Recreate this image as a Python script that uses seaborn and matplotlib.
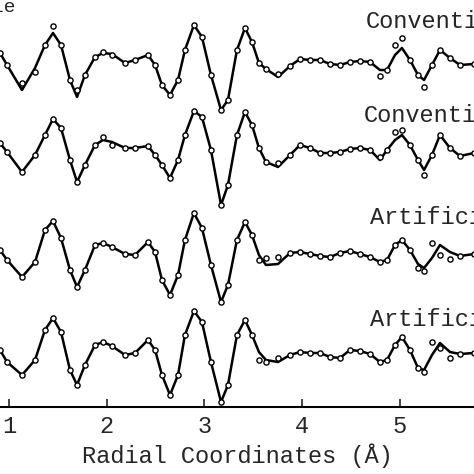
import numpy as np
import pandas as pd
import matplotlib
matplotlib.use("Agg")
import matplotlib.pyplot as plt
import seaborn as sns

# sample positions (Å)
r = [0.908, 0.980, 1.133, 1.266, 1.368, 1.450, 1.532, 1.624, 1.696, 1.777,
     1.880, 1.962, 2.054, 2.187, 2.289, 2.422, 2.494, 2.565, 2.647, 2.729,
     2.800, 2.892, 2.974, 3.066, 3.169, 3.240, 3.332, 3.414, 3.486, 3.557,
     3.629, 3.752, 3.875, 3.977, 4.079, 4.182, 4.284, 4.386, 4.488, 4.591,
     4.693, 4.795, 4.867, 4.949, 5.020, 5.102, 5.184, 5.246, 5.327, 5.409,
     5.511, 5.614, 5.757]

# curves, values measured downward from the top of the plot
fit1 = [53, 65, 90, 68, 45, 33, 45, 80, 97, 75, 57, 53, 54, 63, 60, 55, 65, 85, 95, 80,
        50, 25, 37, 75, 110, 100, 50, 28, 42, 63, 69, 77, 66, 59, 60, 60, 64, 65, 62, 61,
        62, 70, 70, 55, 48, 60, 75, 80, 65, 50, 58, 65, 64]
dat1 = [53, 65, 83, 72, 45, 26, 45, 80, 90, 75, 57, 52, 55, 63, 60, 55, 65, 85, 95, 80,
        50, 25, 37, 75, 110, 100, 50, 28, 42, 63, 69, 74, 66, 59, 60, 60, 64, 65, 62, 61,
        62, 76, 70, 45, 38, 60, 75, 87, 65, 50, 58, 65, 64]
fit2 = [143, 152, 172, 155, 135, 119, 128, 160, 182, 165, 145, 140, 142, 148, 148, 146, 155, 165, 178, 160,
        135, 111, 117, 150, 205, 185, 135, 112, 125, 148, 162, 167, 155, 145, 148, 153, 153, 152, 149, 148,
        150, 160, 150, 140, 135, 145, 160, 170, 155, 135, 148, 156, 153]
dat2 = [143, 152, 172, 155, 135, 119, 128, 160, 182, 165, 145, 137, 145, 148, 148, 146, 155, 165, 178, 160,
        135, 111, 117, 150, 205, 185, 135, 112, 125, 148, 162, 163, 155, 145, 148, 153, 153, 152, 149, 148,
        150, 157, 150, 132, 130, 145, 160, 175, 155, 135, 148, 156, 153]
fit3 = [250, 260, 277, 262, 230, 221, 238, 270, 287, 270, 245, 243, 247, 254, 255, 242, 252, 280, 295, 275,
        240, 213, 228, 265, 302, 285, 240, 222, 235, 255, 265, 264, 253, 252, 254, 256, 257, 253, 251, 254,
        257, 262, 260, 245, 240, 250, 264, 268, 258, 245, 252, 256, 254]
dat3 = [250, 260, 277, 262, 230, 221, 238, 270, 287, 270, 245, 243, 247, 254, 255, 242, 252, 280, 295, 275,
        240, 213, 228, 265, 302, 285, 240, 222, 235, 260, 258, 257, 253, 252, 254, 256, 257, 253, 251, 254,
        257, 262, 260, 245, 240, 250, 268, 271, 243, 255, 259, 256, 254]
fit4 = [350, 362, 375, 360, 330, 318, 332, 370, 385, 365, 345, 342, 346, 355, 353, 340, 350, 375, 395, 375,
        335, 311, 322, 362, 402, 385, 335, 320, 335, 352, 360, 362, 355, 352, 353, 353, 357, 358, 350, 351,
        354, 362, 360, 345, 337, 350, 368, 370, 355, 343, 352, 354, 353]
dat4 = [350, 362, 375, 360, 330, 318, 332, 370, 385, 365, 345, 342, 346, 355, 353, 340, 350, 375, 395, 375,
        335, 311, 322, 362, 402, 385, 335, 320, 335, 360, 362, 358, 355, 352, 353, 353, 357, 358, 350, 351,
        354, 362, 360, 345, 337, 350, 368, 372, 342, 348, 358, 354, 353]

labels = ["Conventional", "Conventional", "Artificial", "Artificial"]
label_pos = [(4.645, 22), (4.625, 115), (4.695, 218), (4.695, 320)]
ticks = [1, 2, 3, 4, 5]

sns.set_style("white")
plt.rcParams["font.family"] = ["Liberation Mono", "DejaVu Sans Mono"]

fig = plt.figure(figsize=(4.74, 4.74), dpi=100)
ax = fig.add_axes([0, 67 / 474, 1, 407 / 474])

for fit, dat in [(fit1, dat1), (fit2, dat2), (fit3, dat3), (fit4, dat4)]:
    df = pd.DataFrame({"r": r, "fit": fit, "dat": dat})
    sns.lineplot(data=df, x="r", y="fit", color="black", lw=1.8, ax=ax, sort=False)
    sns.scatterplot(data=df, x="r", y="dat", marker="o", s=14, facecolor="white",
                    edgecolor="black", linewidth=1.0, ax=ax, zorder=3)

for lab, (lx, ly) in zip(labels, label_pos):
    ax.text(lx, ly, lab, fontsize=17, va="center", ha="left", clip_on=False)
ax.text(1.07, 8, "Sample", fontsize=14, va="center", ha="right")

ax.set_xlim(0.908, 5.757)
ax.set_ylim(407, 0)
ax.set_xticks(ticks)
ax.set_xticklabels([str(t) for t in ticks], fontsize=17)
ax.set_yticks([])
ax.tick_params(axis="x", direction="in", length=6, width=1.2, pad=6, bottom=True)
for s in ["top", "left", "right"]:
    ax.spines[s].set_visible(False)
ax.spines["bottom"].set_linewidth(1.5)
ax.spines["bottom"].set_color("black")
ax.set_xlabel("Radial Coordinates (Å)", fontsize=17, labelpad=4)
ax.set_ylabel("")

fig.savefig("out.png", dpi=100)
